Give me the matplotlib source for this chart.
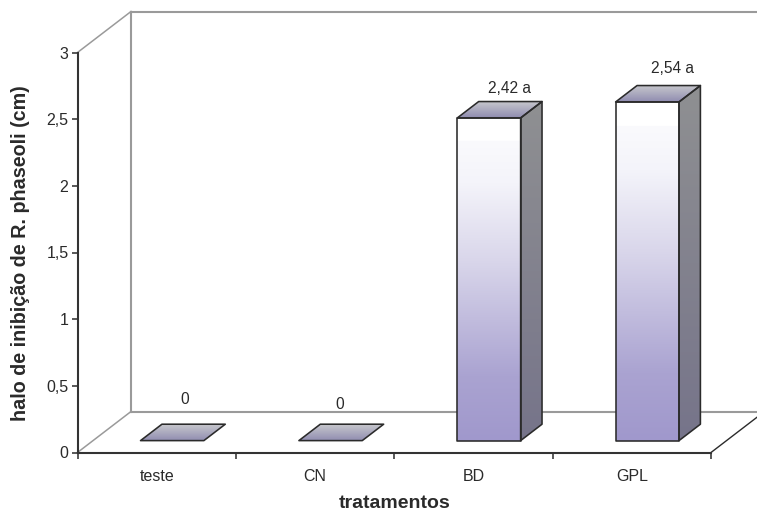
import matplotlib
matplotlib.use("Agg")
import matplotlib.pyplot as plt
import numpy as np
from matplotlib.colors import LinearSegmentedColormap
from matplotlib.patches import Polygon

plt.rcParams['font.family'] = ['Liberation Sans', 'DejaVu Sans']

categories = ["teste", "CN", "BD", "GPL"]
values = [0, 0, 2.42, 2.54]
value_labels = ["0", "0", "2,42 a", "2,54 a"]
y_ticks = [0, 0.5, 1, 1.5, 2, 2.5, 3]
y_tick_labels = ["0", "0,5", "1", "1,5", "2", "2,5", "3"]

W, H = 757, 514
LEFT, RIGHT, BOTTOM, TOP = 77.5, 711, 452.5, 52.5  # plano frontal, em pixels
TEXT = "#2a2a2a"
EDGE = "#2b2b2b"
WALL = "#9a9a9a"

# profundidade do grafico 3D em unidades de dados
DX = 53.5 / ((RIGHT - LEFT) / 4)
DY = 41 / ((BOTTOM - TOP) / 3)
BAR_W = 0.40
D0, D1 = 0.29, 0.69  # inicio e fim da barra na profundidade

front_cmap = LinearSegmentedColormap.from_list(
    "front", [(0, "#a098cc"), (0.2, "#aaa3d1"), (0.55, "#d8d5ea"), (0.8, "#f4f4fa"), (0.931, "#fafafd"), (0.932, "#ffffff"), (1, "#ffffff")])
side_cmap = LinearSegmentedColormap.from_list("side", ["#76748a", "#8f9092"])
top_cmap = LinearSegmentedColormap.from_list("top", ["#8f8bb0", "#c8c9cd"])


def proj(x, y, d):
    return x + d * DX, y + d * DY


def face(ax, pts, cmap):
    """Poligono preenchido com gradiente vertical."""
    pts = np.array(pts)
    grad = np.linspace(0, 1, 256).reshape(-1, 1)
    im = ax.imshow(grad, origin="lower", cmap=cmap, aspect="auto", zorder=3,
                   extent=[pts[:, 0].min(), pts[:, 0].max(), pts[:, 1].min(), pts[:, 1].max()])
    poly = Polygon(pts, closed=True, transform=ax.transData, fill=False,
                   edgecolor=EDGE, linewidth=1.15, joinstyle="round", zorder=4)
    ax.add_patch(poly)
    im.set_clip_path(poly)


fig = plt.figure(figsize=(W / 100, H / 100), dpi=100)
ax = fig.add_axes([LEFT / W, 1 - BOTTOM / H, (RIGHT - LEFT) / W, (BOTTOM - TOP) / H])

# paredes do fundo e chao
wall_line = dict(color=WALL, linewidth=1.5, clip_on=False, zorder=1)
diag_line = dict(color=WALL, linewidth=1.1, clip_on=False, zorder=1)
bx0, by0 = proj(0, 0, 1)
bx1, by1 = proj(0, 3, 1)
x_end = 4 + 46 / ((RIGHT - LEFT) / 4)
ax.plot([0, bx0], [0, by0], **diag_line)
ax.plot([0, bx1], [3, by1], **diag_line)
ax.plot([bx0, bx1], [by0, by1], **wall_line)
ax.plot([bx1, x_end], [by1, by1], **wall_line)
ax.plot([bx0, x_end], [by0, by0], **wall_line)
ax.plot([4, x_end], [0, 46 / 53.5 * DY], color=EDGE, linewidth=1.0, clip_on=False, zorder=1)

for i, val in enumerate(values):
    x0 = i + 0.5 - BAR_W / 2
    x1 = x0 + BAR_W
    a = proj(x0, 0, D0)
    b = proj(x1, 0, D0)
    c = proj(x1, val, D0)
    d = proj(x0, val, D0)
    e = proj(x1, val, D1)
    f = proj(x0, val, D1)
    g = proj(x1, 0, D1)
    if val > 0:
        face(ax, [b, g, e, c], side_cmap)
        face(ax, [a, b, c, d], front_cmap)
    face(ax, [d, c, e, f], top_cmap)

# rotulos de valor (colocados a mao no original)
label_offsets = [(-9, 25), (-12, 20), (-1, 13), (4, 17)]
for i, val in enumerate(values):
    tx, ty = proj(i + 0.5, val, D1)
    ax.annotate(value_labels[i], (tx, ty), xytext=label_offsets[i], textcoords="offset pixels",
                ha="center", va="center", fontsize=11.2, color=TEXT, annotation_clip=False, zorder=5)

ax.set_xlim(0, 4)
ax.set_ylim(0, 3)
ax.set_xticks(range(5))
ax.set_xticklabels([])
ax.set_xticks([i + 0.5 for i in range(4)], minor=True)
ax.set_xticklabels(categories, minor=True)
ax.set_yticks(y_ticks)
ax.set_yticklabels(y_tick_labels)
ax.tick_params(axis="x", which="major", direction="out", length=4.5, width=1.1, color=EDGE)
ax.tick_params(axis="x", which="minor", length=0, pad=12, labelsize=11.5, labelcolor=TEXT)
ax.tick_params(axis="y", direction="out", length=4, width=1.1, color=EDGE, pad=2.5, labelsize=11.5, labelcolor=TEXT)

for side in ("top", "right"):
    ax.spines[side].set_visible(False)
for side in ("left", "bottom"):
    ax.spines[side].set_color("#333333")
    ax.spines[side].set_linewidth(1.5)
    ax.spines[side].set_zorder(6)

fig.text(395 / W, 1 - 503 / H, "tratamentos", ha="center", va="center",
         fontsize=14.0, fontweight="bold", color=TEXT)
fig.text(21 / W, 1 - 253 / H, "halo de inibição de R. phaseoli (cm)", ha="center", va="center",
         rotation=90, fontsize=14.2, fontweight="bold", color=TEXT)

fig.savefig("out.png", dpi=100)
